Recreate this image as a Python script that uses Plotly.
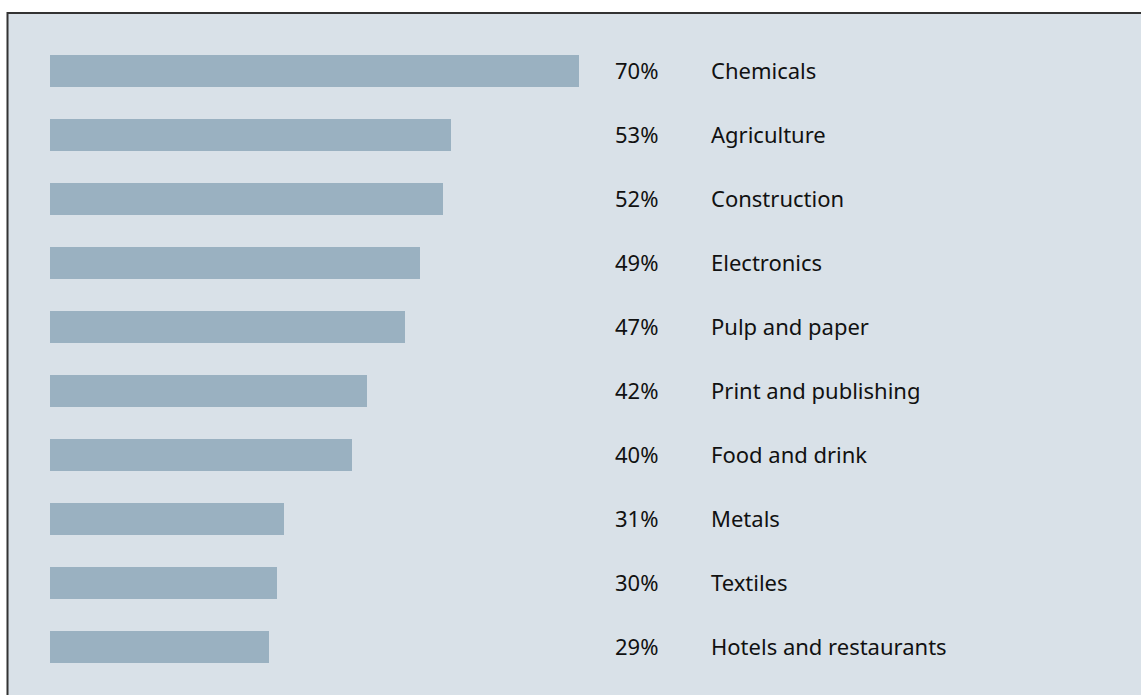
import plotly.graph_objects as go

categories = ["Chemicals", "Agriculture", "Construction", "Electronics", "Pulp and paper",
              "Print and publishing", "Food and drink", "Metals", "Textiles",
              "Hotels and restaurants"]
values = [70, 53, 52, 49, 47, 42, 40, 31, 30, 29]
pct_labels = [f"{v}%" for v in values]

W, H = 1141, 695
BG = "#D9E1E8"
BAR = "#9AB1C1"
TXT = "#111111"
FONT = "Noto Sans"

fig = go.Figure()
fig.add_trace(go.Bar(
    x=values, y=categories, orientation="h",
    marker=dict(color=BAR, line=dict(width=0)),
    width=0.5, hoverinfo="skip", showlegend=False,
))

x0px = 49.5
pxper = 7.57
r0 = -x0px / pxper
r1 = r0 + W / pxper

top_center = 71
pitch = 64
yr_top = -top_center / pitch
yr_bot = (H - top_center) / pitch

for c, p in zip(categories, pct_labels):
    fig.add_annotation(x=613 / W, xref="paper", y=c, yref="y", text=p, showarrow=False,
                       xanchor="left", yanchor="middle", yshift=1,
                       font=dict(family=FONT, size=22, color=TXT))
    fig.add_annotation(x=709 / W, xref="paper", y=c, yref="y", text=c, showarrow=False,
                       xanchor="left", yanchor="middle", yshift=1,
                       font=dict(family=FONT, size=22, color=TXT))

fig.add_shape(type="rect", xref="paper", yref="paper",
              x0=7.5 / W, x1=1.02, y0=-0.02, y1=1 - 13 / H,
              fillcolor=BG, line=dict(color="#333333", width=2), layer="below")

fig.update_layout(
    width=W, height=H, margin=dict(l=0, r=0, t=0, b=0),
    paper_bgcolor="white", plot_bgcolor="rgba(0,0,0,0)",
    xaxis=dict(range=[r0, r1], visible=False, showgrid=False, zeroline=False),
    yaxis=dict(type="category", categoryarray=categories, range=[yr_bot, yr_top],
               visible=False, showgrid=False, zeroline=False),
    bargap=0,
)

fig.write_html("out.html")
